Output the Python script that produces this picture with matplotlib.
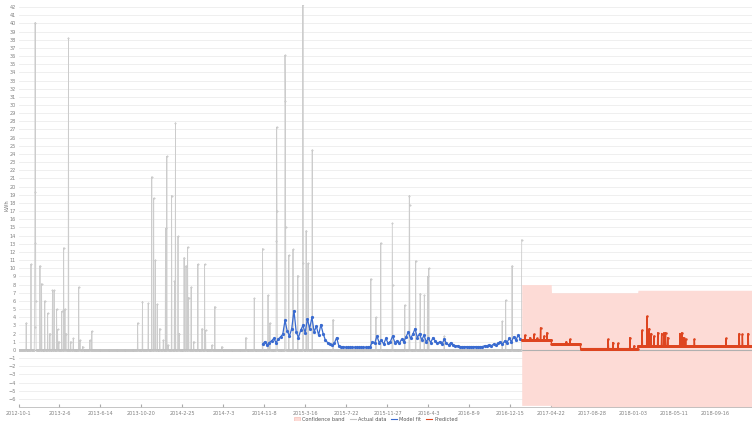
import numpy as np
import pandas as pd
import matplotlib
matplotlib.use("Agg")
import matplotlib.pyplot as plt
from matplotlib.patches import Patch
from matplotlib.lines import Line2D

plt.rcParams["font.family"] = ["DejaVu Sans"]

# ---------- data ----------
# actual data: daily, zero except these days
actual_start, actual_end = "2012-10-01", "2017-01-19"
actual_dates = [
    "2012-10-25", "2012-11-09", "2012-11-20", "2012-11-21", "2012-11-22", "2012-11-23",
    "2012-11-24", "2012-12-07", "2012-12-12", "2012-12-22", "2012-12-31", "2013-01-07",
    "2013-01-15", "2013-01-20", "2013-01-28", "2013-01-31", "2013-02-04", "2013-02-13",
    "2013-02-19", "2013-02-23", "2013-02-26", "2013-03-06", "2013-03-13", "2013-03-21",
    "2013-04-07", "2013-04-11", "2013-04-19", "2013-05-12", "2013-05-18", "2013-10-08",
    "2013-10-23", "2013-11-10", "2013-11-21", "2013-11-27", "2013-12-02", "2013-12-08",
    "2013-12-16", "2013-12-27", "2014-01-03", "2014-01-07", "2014-01-11", "2014-01-22",
    "2014-01-31", "2014-02-03", "2014-02-11", "2014-02-15", "2014-03-02", "2014-03-08",
    "2014-03-13", "2014-03-16", "2014-03-24", "2014-04-01", "2014-04-14", "2014-04-27",
    "2014-05-05", "2014-05-08", "2014-05-28", "2014-06-06", "2014-06-28", "2014-09-11",
    "2014-10-07", "2014-11-02", "2014-11-19", "2014-11-25", "2014-12-15", "2014-12-16",
    "2014-12-17", "2015-01-11", "2015-01-12", "2015-01-13", "2015-01-23", "2015-02-05",
    "2015-02-20", "2015-03-08", "2015-03-09", "2015-03-18", "2015-03-24", "2015-04-06",
    "2015-06-10", "2015-10-06", "2015-10-22", "2015-11-06", "2015-12-12", "2015-12-13",
    "2016-01-20", "2016-02-03", "2016-02-04", "2016-02-23", "2016-03-08", "2016-03-21",
    "2016-03-31", "2016-04-04", "2016-05-22", "2016-11-19", "2016-11-30", "2016-12-20",
    "2017-01-19",
]
actual_vals = [
    3.3, 10.5, 2.8, 13.1, 40.1, 19.3,
    6.0, 10.3, 8.1, 6.0, 4.5, 2.0,
    7.3, 7.3, 5.0, 2.5, 1.0, 4.7,
    12.5, 5.0, 2.0, 38.2, 1.0, 1.4,
    7.7, 1.2, 0.4, 1.2, 2.3, 3.3,
    5.9, 5.7, 21.2, 18.6, 11.0, 5.6,
    2.6, 1.2, 14.9, 23.7, 0.6, 18.9,
    8.4, 27.8, 13.9, 2.0, 11.3, 10.3,
    12.6, 6.4, 7.7, 1.0, 10.5, 2.6,
    10.5, 2.4, 0.6, 5.3, 0.4, 1.5,
    6.3, 12.4, 6.7, 3.3, 13.3, 27.3,
    17.0, 36.1, 30.5, 15.1, 11.6, 12.3,
    9.1, 42.4, 10.6, 14.6, 10.6, 24.5,
    3.7, 8.7, 4.0, 13.1, 15.5, 8.0,
    5.5, 18.9, 17.7, 10.9, 6.9, 6.7,
    9.0, 10.0, 1.7, 3.5, 6.1, 10.3,
    13.5,
]

# model fit: weekly values starting 2014-11-02
fit_start = "2014-11-02"
fit_vals = [
    0.7, 1.0, 0.6, 0.9,
    1.1, 1.4, 0.9, 1.3, 1.6,
    1.9, 3.6, 2.3, 1.7,
    2.6, 4.8, 2.2, 1.5, 2.4,
    3.0, 2.1, 3.8, 2.6, 4.0,
    2.2, 2.9, 1.8, 3.1, 2.0,
    1.2, 0.9, 0.7, 0.6, 0.8, 1.5,
    0.5, 0.4, 0.4, 0.3, 0.3, 0.3, 0.3, 0.3, 0.3, 0.3, 0.3, 0.3, 0.3, 0.3, 0.4,
    1.0, 0.8, 1.7, 0.9, 1.2, 0.7,
    1.4, 0.8, 1.0, 1.7, 0.9, 1.1, 0.8,
    1.3, 1.0, 1.6, 2.2, 1.4, 1.9, 2.6, 1.5, 2.0,
    1.2, 1.8, 1.0, 1.4, 0.9, 1.5, 1.1, 0.8, 1.0,
    0.7, 1.3, 0.8, 0.6, 0.9, 0.6,
    0.5, 0.5, 0.4, 0.4, 0.4, 0.4, 0.4, 0.4, 0.4, 0.4, 0.4, 0.4, 0.4, 0.5, 0.5,
    0.6, 0.5, 0.7, 0.6, 0.8, 1.0, 0.7,
    1.1, 0.9, 1.4, 1.0, 1.6, 1.2, 1.8, 1.3,
]

# predicted: step levels plus single-day peaks
pred_end = "2019-01-08"
seg_starts = ["2017-01-19", "2017-04-22", "2017-07-22", "2018-01-17"]
seg_levels = [1.2, 0.7, 0.15, 0.5]
band_upper = [8.0, 7.0, 7.0, 7.3]
band_lower = [-6.8, -7.3, -7.6, -7.2]
pred_peak_dates = [
    "2017-01-29", "2017-02-14", "2017-02-26", "2017-03-08", "2017-03-19", "2017-03-30",
    "2017-04-08", "2017-06-07", "2017-06-19", "2017-10-16", "2017-10-31", "2017-11-16",
    "2017-12-23", "2018-01-05", "2018-01-30", "2018-02-14", "2018-02-21", "2018-02-27",
    "2018-03-08", "2018-03-20", "2018-04-01", "2018-04-08", "2018-04-13", "2018-04-20",
    "2018-05-28", "2018-06-03", "2018-06-09", "2018-06-15", "2018-07-12", "2018-10-19",
    "2018-11-29", "2018-12-09", "2018-12-27",
]
pred_peak_vals = [
    1.8, 1.5, 1.9, 1.4, 2.7, 1.7,
    2.1, 1.0, 1.3, 1.3, 0.9, 0.8,
    1.5, 0.5, 2.4, 4.1, 2.6, 2.0,
    1.7, 2.1, 2.0, 2.1, 2.1, 1.5,
    2.0, 2.1, 1.5, 1.3, 1.3, 1.4,
    2.0, 1.9, 2.0,
]

tick_labels = [
    "2012-10-1", "2013-2-6", "2013-6-14", "2013-10-20", "2014-2-25", "2014-7-3",
    "2014-11-8", "2015-3-16", "2015-7-22", "2015-11-27", "2016-4-3", "2016-8-9",
    "2016-12-15", "2017-04-22", "2017-08-28", "2018-01-03", "2018-05-11", "2018-09-16",
]

# ---------- build series ----------
actual = pd.Series(0.0, index=pd.date_range(actual_start, actual_end, freq="D"))
actual.loc[pd.to_datetime(actual_dates)] = actual_vals

fit = pd.Series(fit_vals, index=pd.date_range(fit_start, periods=len(fit_vals), freq="7D"))

pred_idx = pd.date_range(seg_starts[0], pred_end, freq="D")
seg_idx = pd.to_datetime(seg_starts)
pred = pd.Series(seg_levels, index=seg_idx).reindex(pred_idx, method="ffill")
pred.loc[pd.to_datetime(pred_peak_dates)] = pred_peak_vals
upper = pd.Series(band_upper, index=seg_idx).reindex(pred_idx, method="ffill")
lower = pd.Series(band_lower, index=seg_idx).reindex(pred_idx, method="ffill")

# ---------- plot ----------
fig = plt.figure(figsize=(7.52, 4.21), dpi=100)
ax = fig.add_axes([18.5 / 752, 1 - 407 / 421, 1 - 18.5 / 752, 402 / 421])

ax.fill_between(pred_idx, lower, upper, color="#fddbd6", lw=0, zorder=1)
ax.axhline(0, color="#b0b0b0", lw=0.8, zorder=1.5)
ax.plot(actual.index, actual.values, color="#cccccc", lw=0.6,
        marker="o", ms=1.0, mec="#bdbdbd", mfc="#d4d4d4", mew=0.3, zorder=2)
ax.plot(fit.index, fit.values, color="#3a6bd0", lw=0.9,
        marker="o", ms=1.3, mfc="#3a6bd0", mec="#3a6bd0", zorder=3)
ax.plot(pred.index, pred.values, color="#de4520", lw=1.0,
        marker="o", ms=0.8, mfc="#de4520", mec="#de4520", zorder=3)

ax.set_xlim(pd.Timestamp("2012-10-01"), pd.Timestamp(pred_end))
ax.set_ylim(-7, 42.25)
ax.set_yticks(np.arange(-6, 43, 1))
ax.tick_params(axis="y", length=0, labelsize=3.6, labelcolor="#808080", pad=2)
ax.set_xticks([pd.Timestamp(s) for s in tick_labels])
ax.set_xticklabels(tick_labels)
ax.tick_params(axis="x", length=2, direction="in", color="#aaaaaa",
               labelsize=3.6, labelcolor="#808080", pad=3)
ax.grid(axis="y", color="#ececec", lw=0.6)
ax.set_axisbelow(True)
for s in ["top", "right", "left"]:
    ax.spines[s].set_visible(False)
ax.spines["bottom"].set_color("#bbbbbb")
ax.spines["bottom"].set_linewidth(0.6)

fig.text(0.009, 1 - 205 / 421, "kWh", rotation=90, fontsize=3.8,
         color="#777777", ha="center", va="center")

handles = [
    Patch(facecolor="#fddbd6", edgecolor="#f5b5ab", lw=0.4),
    Line2D([], [], color="#c4c4c4", lw=0.8),
    Line2D([], [], color="#3a6bd0", lw=0.8),
    Line2D([], [], color="#de4520", lw=0.8),
]
labels = ["Confidence band", "Actual data", "Model fit", "Predicted"]
fig.legend(handles, labels, loc="lower center", bbox_to_anchor=(0.5, -0.012),
           ncol=4, frameon=False, fontsize=3.6, handlelength=1.2,
           handletextpad=0.4, columnspacing=1.0, labelcolor="#555555")

fig.savefig("out.png", dpi=100)
